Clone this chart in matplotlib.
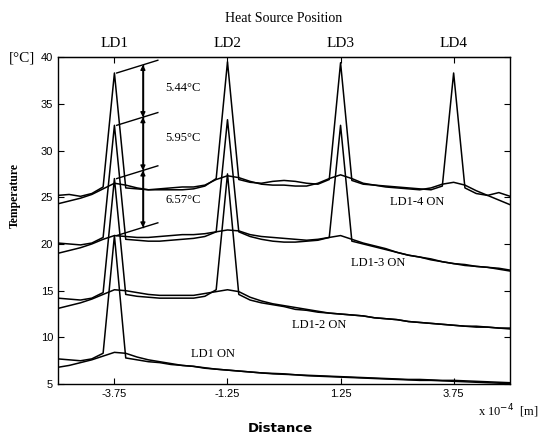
import matplotlib
matplotlib.use("Agg")
import matplotlib.pyplot as plt

plt.rcParams['font.family'] = ['Liberation Serif', 'DejaVu Serif']

# sampling positions along the device (x 10^-4 m)
distance = [-5.0, -4.75, -4.5, -4.25, -4.0, -3.75, -3.5, -3.25, -3.0, -2.75,
            -2.5, -2.25, -2.0, -1.75, -1.5, -1.25, -1.0, -0.75, -0.5, -0.25,
            0.0, 0.25, 0.5, 0.75, 1.0, 1.25, 1.5, 1.75, 2.0, 2.25,
            2.5, 2.75, 3.0, 3.25, 3.5, 3.75, 4.0, 4.25, 4.5, 4.75, 5.0]

source_pos = [-3.75, -1.25, 1.25, 3.75]
source_names = ["LD1", "LD2", "LD3", "LD4"]

# LD1-4 ON
ld14_peak = [25.2, 25.3, 25.1, 25.4, 26.1, 38.3, 26.0, 25.9, 25.8, 25.8,
             25.8, 25.8, 25.9, 26.2, 27.0, 39.5, 26.9, 26.6, 26.5, 26.7,
             26.8, 26.7, 26.5, 26.4, 26.9, 39.4, 26.8, 26.4, 26.3, 26.2,
             26.1, 26.0, 25.9, 25.8, 26.2, 38.3, 26.0, 25.4, 25.2, 25.5, 25.1]
ld14_smooth = [24.3, 24.6, 24.9, 25.3, 25.9, 26.5, 26.3, 26.0, 25.8, 25.9,
               26.0, 26.1, 26.1, 26.3, 26.9, 27.3, 27.1, 26.7, 26.4, 26.3,
               26.3, 26.2, 26.2, 26.5, 27.0, 27.4, 27.0, 26.5, 26.3, 26.1,
               26.0, 25.9, 25.8, 26.0, 26.4, 26.6, 26.3, 25.7, 25.2, 24.7, 24.2]

# LD1-3 ON
ld13_peak = [20.1, 20.0, 19.9, 20.1, 20.7, 32.7, 20.5, 20.4, 20.3, 20.3,
             20.4, 20.5, 20.6, 20.8, 21.3, 33.3, 21.3, 20.8, 20.5, 20.3,
             20.2, 20.2, 20.3, 20.4, 20.7, 32.7, 20.3, 20.0, 19.7, 19.4,
             19.1, 18.8, 18.6, 18.4, 18.1, 17.9, 17.8, 17.6, 17.5, 17.4, 17.2]
ld13_smooth = [19.0, 19.3, 19.6, 20.0, 20.5, 20.9, 20.8, 20.7, 20.7, 20.8,
               20.9, 21.0, 21.0, 21.1, 21.3, 21.5, 21.4, 21.0, 20.8, 20.7,
               20.6, 20.5, 20.4, 20.5, 20.7, 20.9, 20.5, 20.1, 19.8, 19.5,
               19.1, 18.8, 18.6, 18.3, 18.1, 17.9, 17.7, 17.6, 17.5, 17.3, 17.1]

# LD1-2 ON
ld12_peak = [14.2, 14.1, 14.0, 14.2, 14.8, 27.0, 14.6, 14.4, 14.3, 14.2,
             14.2, 14.2, 14.2, 14.4, 15.1, 27.5, 14.6, 14.0, 13.7, 13.5,
             13.3, 13.0, 12.9, 12.7, 12.6, 12.5, 12.4, 12.3, 12.1, 12.0,
             11.9, 11.7, 11.6, 11.5, 11.4, 11.3, 11.2, 11.2, 11.1, 11.0, 11.0]
ld12_smooth = [13.1, 13.4, 13.7, 14.1, 14.6, 15.1, 15.0, 14.8, 14.6, 14.5,
               14.5, 14.5, 14.5, 14.7, 14.9, 15.1, 14.9, 14.3, 13.9, 13.6,
               13.4, 13.2, 13.0, 12.8, 12.6, 12.5, 12.4, 12.3, 12.1, 12.0,
               11.9, 11.7, 11.6, 11.5, 11.4, 11.3, 11.2, 11.1, 11.1, 11.0, 10.9]

# LD1 ON
ld1_peak = [7.7, 7.6, 7.5, 7.7, 8.3, 20.9, 7.8, 7.6, 7.4, 7.3,
            7.1, 7.0, 6.9, 6.7, 6.6, 6.5, 6.4, 6.3, 6.2, 6.15,
            6.1, 6.0, 5.95, 5.9, 5.85, 5.8, 5.75, 5.7, 5.65, 5.6,
            5.55, 5.5, 5.5, 5.45, 5.4, 5.4, 5.35, 5.3, 5.25, 5.2, 5.15]
ld1_smooth = [6.8, 7.0, 7.3, 7.6, 8.0, 8.4, 8.3, 7.9, 7.6, 7.4,
              7.2, 7.0, 6.9, 6.75, 6.6, 6.5, 6.4, 6.3, 6.2, 6.1,
              6.05, 6.0, 5.9, 5.85, 5.8, 5.75, 5.7, 5.65, 5.6, 5.55,
              5.5, 5.45, 5.4, 5.4, 5.35, 5.3, 5.25, 5.2, 5.15, 5.1, 5.05]

case_labels = ["LD1-4 ON", "LD1-3 ON", "LD1-2 ON", "LD1 ON"]
label_xy = [(2.94, 24.5), (2.08, 18.0), (0.77, 11.3), (-1.57, 8.2)]
rise_labels = ["5.44\u00b0C", "5.95\u00b0C", "6.57\u00b0C"]
rise_label_y = [36.7, 31.3, 24.7]

fig = plt.figure(figsize=(5.41, 4.36), dpi=100)
ax = fig.add_axes([0.107, 0.119, 0.836, 0.750])

peaked = [ld14_peak, ld13_peak, ld12_peak, ld1_peak]
smooth = [ld14_smooth, ld13_smooth, ld12_smooth, ld1_smooth]
for p, s in zip(peaked, smooth):
    ax.plot(distance, p, color='black', lw=1.1)
    ax.plot(distance, s, color='black', lw=1.1)

for txt, (tx, ty) in zip(case_labels, label_xy):
    ax.text(tx, ty, txt, fontsize=9, ha='center', va='center')

# peak-difference brackets at LD1
i_ld1 = distance.index(source_pos[0])
ld1_peaks = [c[i_ld1] for c in peaked]
x_arrow = -3.12
slope = 1.5
x_end = -2.79
arrow_y = []
for pk in ld1_peaks:
    ax.plot([source_pos[0] + 0.05, x_end], [pk, pk + slope * (x_end - source_pos[0] - 0.05)],
            color='black', lw=1.0)
    arrow_y.append(pk + slope * (x_arrow - source_pos[0] - 0.05))
ax.plot([x_arrow, x_arrow], [arrow_y[0], arrow_y[-1]], color='black', lw=1.0)
for k in range(len(arrow_y) - 1):
    ax.annotate('', xy=(x_arrow, arrow_y[k]), xytext=(x_arrow, arrow_y[k + 1]),
                arrowprops=dict(arrowstyle='<|-|>', color='black', lw=1.0,
                                mutation_scale=7, shrinkA=0, shrinkB=0))
    ax.text(-2.23, rise_label_y[k], rise_labels[k], fontsize=9, ha='center', va='center')

ax.set_xlim(-5, 5)
ax.set_ylim(5, 40)
ax.set_xticks(source_pos)
ax.set_xticklabels(["-3.75", "-1.25", "1.25", "3.75"])
ax.set_yticks(range(5, 41, 5))
ax.tick_params(direction='in', right=True, labelsize=8, length=4, width=0.8)
for lab in ax.get_xticklabels() + ax.get_yticklabels():
    lab.set_family('Liberation Sans')
for sp in ax.spines.values():
    sp.set_linewidth(1.0)

top = ax.secondary_xaxis('top')
top.set_xticks(source_pos)
top.set_xticklabels(source_names)
top.tick_params(direction='in', labelsize=11, length=4, width=0.8, pad=5)
top.set_xlabel("Heat Source Position", fontsize=10, labelpad=11)

fig.text(22 / 541, 1 - 58 / 436, "[\u00b0C]", fontsize=11, ha='center', va='center')
fig.text(15 / 541, 1 - 195 / 436, "Temperature", fontsize=8.5, fontweight='bold',
         rotation=90, ha='center', va='center')
fig.text(280 / 541, 1 - 428 / 436, "Distance", fontsize=9.5, fontweight='bold',
         family='DejaVu Sans', ha='center', va='center')
fig.text(508 / 541, 1 - 411 / 436, r"x 10$^{-4}$  [m]", fontsize=9,
         ha='center', va='center')

fig.savefig("out.png", dpi=100)
